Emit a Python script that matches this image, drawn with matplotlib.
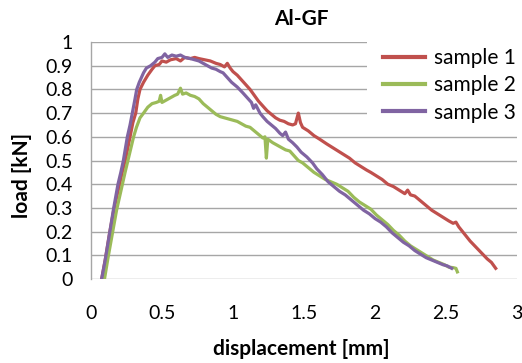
import matplotlib
matplotlib.use("Agg")
import matplotlib.pyplot as plt
from matplotlib.patches import Rectangle

plt.rcParams['font.family'] = ['Lato', 'DejaVu Sans']

# ---- data ----
s1_x = [0.075, 0.10, 0.13, 0.16, 0.19, 0.22, 0.245, 0.275, 0.295, 0.315, 0.33, 0.345, 0.37, 0.40, 0.43, 0.45,
        0.48, 0.50, 0.53, 0.56, 0.60, 0.63, 0.66, 0.70, 0.73, 0.76, 0.80, 0.84, 0.88, 0.91, 0.94, 0.96, 0.98,
        1.00, 1.03, 1.06, 1.09, 1.12, 1.15, 1.18, 1.21, 1.24, 1.27, 1.30, 1.33, 1.36, 1.39, 1.42, 1.44, 1.46,
        1.475, 1.49, 1.53, 1.57, 1.61, 1.66, 1.70, 1.74, 1.78, 1.82, 1.86, 1.90, 1.94, 1.97, 2.01, 2.05, 2.09,
        2.13, 2.17, 2.21, 2.23, 2.25, 2.28, 2.32, 2.36, 2.40, 2.44, 2.48, 2.52, 2.55, 2.57, 2.59, 2.63, 2.67,
        2.71, 2.75, 2.79, 2.82, 2.85]
s1_y = [0.0, 0.08, 0.19, 0.29, 0.37, 0.45, 0.51, 0.60, 0.66, 0.70, 0.76, 0.80, 0.83, 0.86, 0.885, 0.90,
        0.905, 0.92, 0.915, 0.925, 0.93, 0.92, 0.935, 0.93, 0.935, 0.93, 0.925, 0.92, 0.91, 0.905, 0.895, 0.91, 0.89,
        0.875, 0.86, 0.84, 0.82, 0.80, 0.775, 0.75, 0.73, 0.71, 0.695, 0.68, 0.67, 0.665, 0.655, 0.65, 0.655, 0.70,
        0.66, 0.64, 0.625, 0.605, 0.59, 0.57, 0.555, 0.54, 0.525, 0.51, 0.49, 0.475, 0.46, 0.45, 0.435, 0.42, 0.40,
        0.39, 0.375, 0.36, 0.375, 0.355, 0.35, 0.33, 0.31, 0.29, 0.275, 0.26, 0.245, 0.235, 0.24, 0.22, 0.19, 0.16,
        0.135, 0.11, 0.085, 0.07, 0.045]

s2_x = [0.095, 0.12, 0.15, 0.18, 0.21, 0.24, 0.26, 0.28, 0.30, 0.32, 0.345, 0.37, 0.40, 0.43, 0.46, 0.48,
        0.49, 0.50, 0.53, 0.56, 0.59, 0.61, 0.63, 0.645, 0.67, 0.70, 0.73, 0.76, 0.79, 0.82, 0.85, 0.88, 0.91,
        0.94, 0.97, 1.00, 1.03, 1.06, 1.09, 1.12, 1.15, 1.18, 1.21, 1.225, 1.235, 1.245, 1.28, 1.31, 1.34, 1.37,
        1.40, 1.43, 1.46, 1.49, 1.53, 1.57, 1.61, 1.65, 1.69, 1.73, 1.77, 1.81, 1.85, 1.89, 1.93, 1.97, 2.01,
        2.05, 2.09, 2.13, 2.17, 2.21, 2.25, 2.29, 2.33, 2.37, 2.41, 2.45, 2.49, 2.52, 2.55, 2.57, 2.58]
s2_y = [0.0, 0.09, 0.19, 0.29, 0.37, 0.45, 0.50, 0.55, 0.60, 0.64, 0.68, 0.70, 0.725, 0.74, 0.745, 0.75,
        0.775, 0.745, 0.755, 0.765, 0.775, 0.78, 0.805, 0.78, 0.785, 0.775, 0.77, 0.76, 0.74, 0.725, 0.71, 0.695, 0.685,
        0.68, 0.675, 0.67, 0.665, 0.655, 0.645, 0.64, 0.625, 0.61, 0.595, 0.60, 0.51, 0.59, 0.575, 0.565, 0.555, 0.545,
        0.54, 0.52, 0.50, 0.49, 0.47, 0.45, 0.435, 0.42, 0.41, 0.40, 0.385, 0.37, 0.345, 0.325, 0.31, 0.295, 0.27,
        0.25, 0.23, 0.205, 0.185, 0.16, 0.14, 0.125, 0.11, 0.095, 0.08, 0.07, 0.06, 0.05, 0.048, 0.045, 0.03]

s3_x = [0.075, 0.10, 0.13, 0.16, 0.19, 0.21, 0.228, 0.256, 0.275, 0.291, 0.31, 0.322, 0.34, 0.37, 0.39, 0.42,
        0.45, 0.47, 0.50, 0.52, 0.54, 0.57, 0.60, 0.63, 0.66, 0.70, 0.73, 0.76, 0.79, 0.82, 0.85, 0.88, 0.91,
        0.93, 0.96, 0.99, 1.03, 1.07, 1.10, 1.13, 1.145, 1.16, 1.19, 1.21, 1.24, 1.27, 1.30, 1.33, 1.35, 1.37,
        1.39, 1.42, 1.45, 1.48, 1.52, 1.56, 1.59, 1.63, 1.67, 1.71, 1.75, 1.79, 1.83, 1.87, 1.92, 1.96, 2.00,
        2.04, 2.08, 2.12, 2.16, 2.20, 2.24, 2.28, 2.32, 2.36, 2.40, 2.44, 2.48, 2.51, 2.54]
s3_y = [0.0, 0.08, 0.19, 0.30, 0.40, 0.45, 0.50, 0.60, 0.65, 0.70, 0.76, 0.80, 0.83, 0.87, 0.89, 0.90,
        0.915, 0.93, 0.935, 0.95, 0.935, 0.945, 0.94, 0.945, 0.935, 0.93, 0.925, 0.92, 0.91, 0.90, 0.89, 0.885, 0.875,
        0.87, 0.85, 0.83, 0.81, 0.785, 0.765, 0.745, 0.72, 0.735, 0.70, 0.685, 0.665, 0.65, 0.635, 0.615, 0.605, 0.62,
        0.59, 0.575, 0.557, 0.535, 0.515, 0.49, 0.465, 0.44, 0.41, 0.39, 0.37, 0.355, 0.335, 0.315, 0.29, 0.275, 0.255,
        0.24, 0.22, 0.195, 0.175, 0.155, 0.14, 0.12, 0.105, 0.09, 0.08, 0.07, 0.06, 0.055, 0.045]

labels = ["sample 1", "sample 2", "sample 3"]
colors = ["#C0504D", "#9BBB59", "#8064A2"]
x_ticks = [0, 0.5, 1, 1.5, 2, 2.5, 3]
x_tick_labels = ["0", "0.5", "1", "1.5", "2", "2.5", "3"]
y_ticks = [0, 0.1, 0.2, 0.3, 0.4, 0.5, 0.6, 0.7, 0.8, 0.9, 1.0]
y_tick_labels = ["0", "0.1", "0.2", "0.3", "0.4", "0.5", "0.6", "0.7", "0.8", "0.9", "1"]
title = "Al-GF"
xlabel = "displacement [mm]"
ylabel = "load [kN]"

W, H = 522, 363
fig = plt.figure(figsize=(W / 100, H / 100), dpi=100)
ax = fig.add_axes([91 / W, 1 - 279 / H, (517 - 91) / W, (279 - 42) / H])

grid_c = "#A6A6A6"
ax.set_axisbelow(True)
ax.grid(axis="y", color=grid_c, linewidth=1.0)
for sp in ["top", "right", "bottom"]:
    ax.spines[sp].set_visible(False)
ax.spines["left"].set_color(grid_c)
ax.spines["left"].set_linewidth(1.0)

series = [(s1_x, s1_y), (s2_x, s2_y), (s3_x, s3_y)]
for (xs, ys), lab, c in zip(series, labels, colors):
    ax.plot(xs, ys, color=c, linewidth=2.3, label=lab, solid_joinstyle="round", zorder=3)

ax.set_xlim(0, 3)
ax.set_ylim(0, 1)
ax.set_xticks(x_ticks)
ax.set_xticklabels(x_tick_labels)
ax.set_yticks(y_ticks)
ax.set_yticklabels(y_tick_labels)
ax.tick_params(axis="x", length=0, pad=19, labelsize=14)
ax.tick_params(axis="y", length=0, pad=13, labelsize=14)

# white area behind the legend (covers upper gridlines)
ax.add_patch(Rectangle(((367 - 91) / 426, 0.63), 1.0, 0.45, transform=ax.transAxes,
                       facecolor="white", edgecolor="none", zorder=1, clip_on=False))

leg = fig.legend(loc="upper left", bbox_to_anchor=(383 / W, 1 - 48 / H), frameon=False,
                 fontsize=15, handlelength=2.0, handletextpad=0.45, labelspacing=0.35,
                 borderaxespad=0, borderpad=0)
for line in leg.get_lines():
    line.set_linewidth(3)

fig.text(301 / W, 1 - 19 / H, title, ha="center", va="center", fontsize=15, fontweight="bold")
fig.text(301 / W, 1 - 349 / H, xlabel, ha="center", va="center", fontsize=15, fontweight="bold")
fig.text(22 / W, 1 - 175 / H, ylabel, ha="center", va="center", rotation=90, fontsize=15, fontweight="bold")

fig.savefig("out.png", dpi=100)
